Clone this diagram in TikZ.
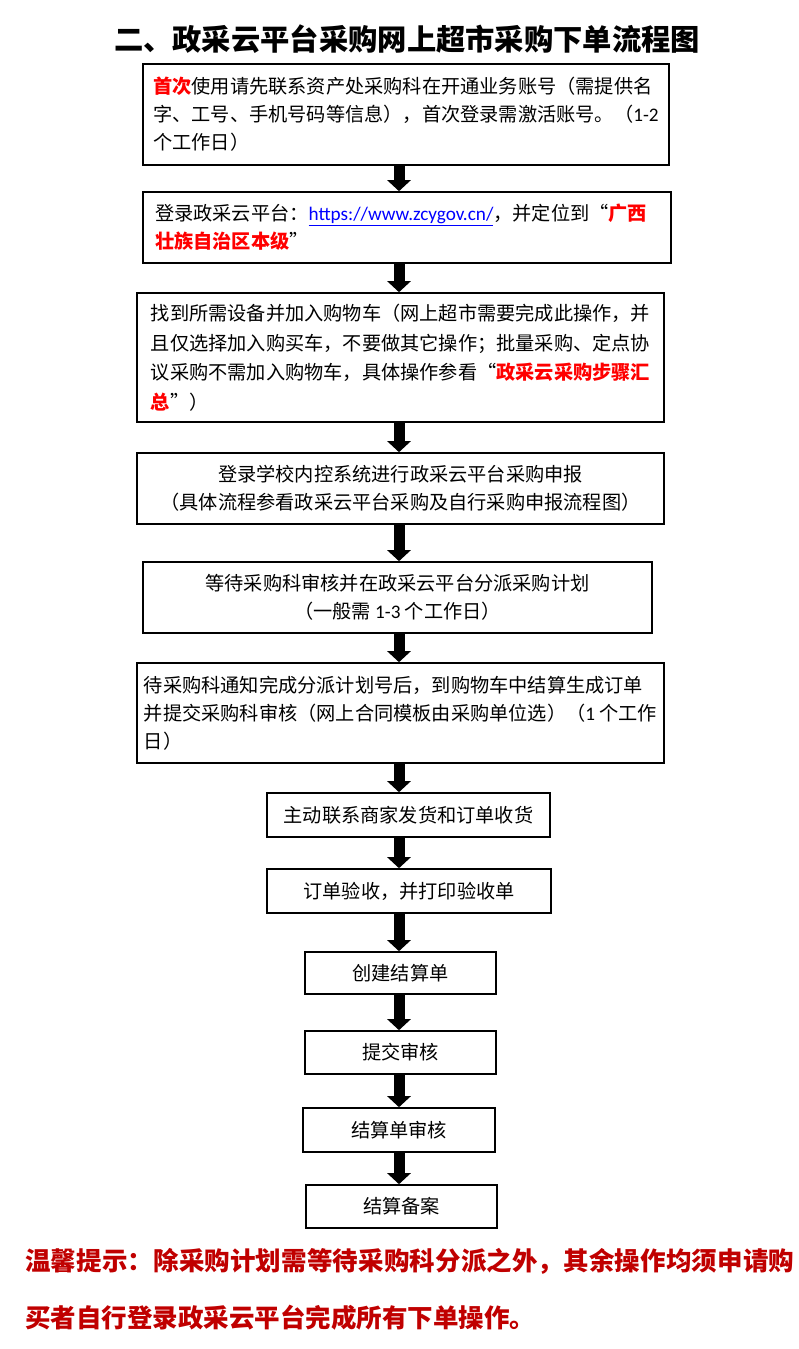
\documentclass[tikz,border=0pt]{standalone}
\usepackage{fontspec}
\setmainfont{Noto Sans CJK SC}
\newfontfamily\latf{Carlito}
\usetikzlibrary{arrows.meta}
\definecolor{hlred}{RGB}{255,0,0}
\definecolor{notered}{RGB}{192,0,0}
\definecolor{urlblue}{RGB}{0,0,255}
\begin{document}
\begin{tikzpicture}[x=1pt,y=-1pt,
  box/.style={draw, line width=1.6pt, inner sep=0pt, font=\fontsize{19.2}{28}\selectfont},
  lbox/.style={box, align=left},
  cbox/.style={box, align=center},
  flow/.style={line width=11pt, -{Triangle[width=23pt,length=11pt]}},
]
\useasboundingbox (0,0) rectangle (799,1349);
\coordinate (ax) at (399,0);

\node (title) at (407,39) {\fontsize{29.3}{35}\selectfont\bfseries 二、政采云平台采购网上超市采购下单流程图};

\node[lbox, minimum width=526pt, minimum height=101pt] (b1) at (406,114.5)
  {{\bfseries\color{hlred}首次}使用请先联系资产处采购科在开通业务账号（需提供名\\字、工号、手机号码等信息），首次登录需激活账号。（{\latf 1-2}\\个工作日）};

\node[lbox, text width=504pt, inner xsep=12pt, minimum height=71pt] (b2) at (407,227.5)
  {登录政采云平台：{\latf\color{urlblue}\underline{https://www.zcygov.cn/}}，并定位到“{\bfseries\color{hlred}广西}\\{\bfseries\color{hlred}壮族自治区本级}”};

\node[lbox, minimum width=527pt, minimum height=129pt, font=\fontsize{19.2}{29.5}\selectfont] (b3) at (400.5,357.5)
  {找到所需设备并加入购物车（网上超市需要完成此操作，并\\且仅选择加入购买车，不要做其它操作；批量采购、定点协\\议采购不需加入购物车，具体操作参看“{\bfseries\color{hlred}政采云采购步骤汇}\\{\bfseries\color{hlred}总}”）};

\node[cbox, minimum width=527pt, minimum height=71pt] (b4) at (400.5,488.5)
  {登录学校内控系统进行政采云平台采购申报\\（具体流程参看政采云平台采购及自行采购申报流程图）};

\node[cbox, minimum width=509pt, minimum height=71pt] (b5) at (397.5,597.5)
  {等待采购科审核并在政采云平台分派采购计划\\（一般需 {\latf 1-3} 个工作日）};

\node[lbox, minimum width=527pt, minimum height=100pt] (b6) at (400.5,713)
  {待采购科通知完成分派计划号后，到购物车中结算生成订单\\并提交采购科审核（网上合同模板由采购单位选）（{\latf 1} 个工作\\日）};

\node[cbox, minimum width=283pt, minimum height=44pt] (b7) at (408.5,815) {主动联系商家发货和订单收货};
\node[cbox, minimum width=284pt, minimum height=44pt] (b8) at (409,891) {订单验收，并打印验收单};
\node[cbox, minimum width=191pt, minimum height=42pt] (b9) at (400.5,973) {创建结算单};
\node[cbox, minimum width=191pt, minimum height=43pt] (b10) at (400.5,1052.5) {提交审核};
\node[cbox, minimum width=192pt, minimum height=44pt] (b11) at (399,1130) {结算单审核};
\node[cbox, minimum width=191pt, minimum height=43pt] (b12) at (401.5,1206.5) {结算备案};

\foreach \a/\b in {b1/b2,b2/b3,b3/b4,b4/b5,b5/b6,b6/b7,b7/b8,b8/b9,b9/b10,b10/b11,b11/b12}
  \draw[flow] (ax |- \a.south) -- (ax |- \b.north);

\node[anchor=west, text=notered, inner sep=0pt] (tip1) at (25,1261)
  {\fontsize{25.5}{30}\selectfont\bfseries\addfontfeatures{LetterSpace=0.55}温馨提示：除采购计划需等待采购科分派之外，其余操作均须申请购};
\node[anchor=west, text=notered, inner sep=0pt] (tip2) at (25,1318)
  {\fontsize{25.5}{30}\selectfont\bfseries 买者自行登录政采云平台完成所有下单操作。};
\end{tikzpicture}
\end{document}
